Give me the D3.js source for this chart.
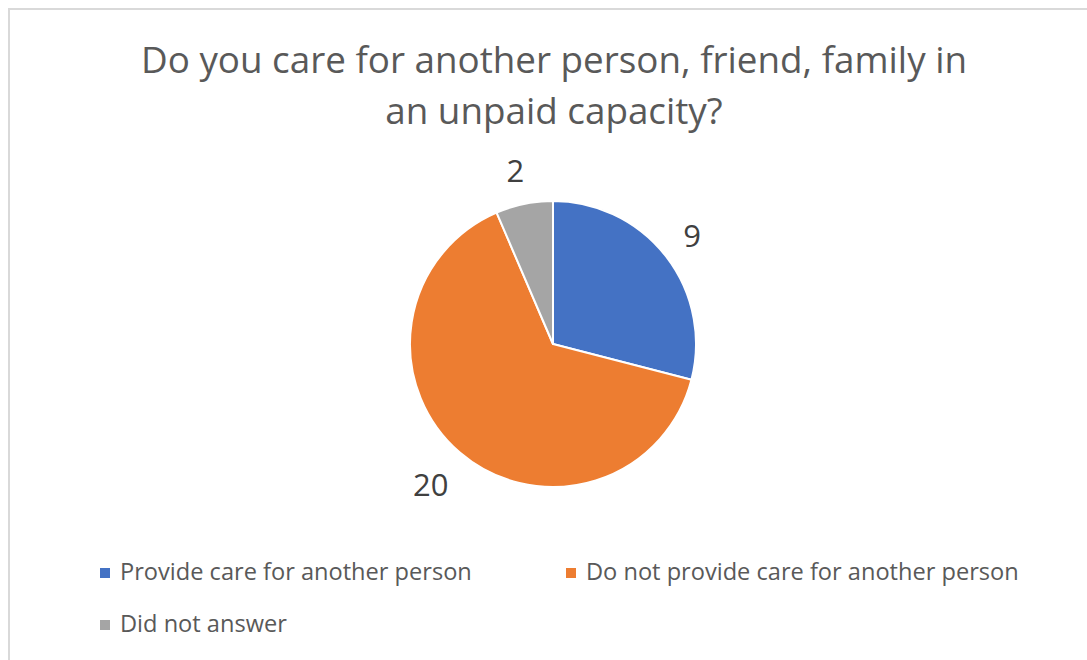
<!DOCTYPE html>
<html>
<head>
<meta charset="utf-8">
<script src="https://cdn.jsdelivr.net/npm/d3@7"></script>
<style>
  html, body { margin: 0; padding: 0; background: #fff; }
  svg { display: block; }
</style>
</head>
<body>
<div id="chart"></div>
<script>
// answers to the survey question
var categories = ["Provide care for another person", "Do not provide care for another person", "Did not answer"];
var counts = [9, 20, 2];
var colours = ["#4472c4", "#ed7d31", "#a5a5a5"];
var titleLines = ["Do you care for another person, friend, family in", "an unpaid capacity?"];

var width = 1087,
    height = 660,
    cx = 553,
    cy = 344,
    radius = 143,
    labelGap = 21;

var data = categories.map(function(c, i) {
    return {name: c, value: counts[i], colour: colours[i]};
});

var svg = d3.select("#chart").append("svg")
    .attr("width", width)
    .attr("height", height);

// chart frame
svg.append("rect")
    .attr("x", 9).attr("y", 9)
    .attr("width", width + 20).attr("height", height + 20)
    .attr("fill", "none")
    .attr("stroke", "#d9d9d9")
    .attr("stroke-width", 2);

// title
svg.append("g").selectAll("text")
    .data(titleLines)
    .enter().append("text")
    .attr("x", 554)
    .attr("y", function(d, i) { return 73 + i * 51; })
    .attr("text-anchor", "middle")
    .style("font-family", "'Open Sans', sans-serif")
    .style("font-size", "36.8px")
    .style("fill", "#595959")
    .text(function(d) { return d; });

var pie = d3.pie().sort(null).value(function(d) { return d.value; });
var arc = d3.arc().innerRadius(0).outerRadius(radius);
var arcs = pie(data);

var g = svg.append("g").attr("transform", "translate(" + cx + "," + cy + ")");

g.selectAll("path")
    .data(arcs)
    .enter().append("path")
    .attr("d", arc)
    .attr("fill", function(d) { return d.data.colour; })
    .attr("stroke", "#fff")
    .attr("stroke-width", 2)
    .attr("stroke-linejoin", "round");

// data labels, placed just outside the slice edge
var labels = g.selectAll("text.lbl")
    .data(arcs)
    .enter().append("text")
    .attr("class", "lbl")
    .attr("text-anchor", "middle")
    .attr("dominant-baseline", "central")
    .style("font-family", "'Open Sans', sans-serif")
    .style("font-size", "31px")
    .style("fill", "#404040")
    .text(function(d) { return d.data.value; });

labels.each(function(d) {
    var bb = this.getBBox();
    var a = (d.startAngle + d.endAngle) / 2;
    var ux = Math.sin(a), uy = -Math.cos(a);
    var hw = bb.width / 2, hh = 12;
    var dist = radius + labelGap + Math.abs(ux) * hw + Math.abs(uy) * hh;
    d3.select(this).attr("x", ux * dist - 2).attr("y", uy * dist);
});

// legend
var legendPos = [[100, 580], [566, 580], [100, 632]];
var legend = svg.append("g").selectAll("g")
    .data(data)
    .enter().append("g")
    .attr("transform", function(d, i) { return "translate(" + legendPos[i] + ")"; });

legend.append("rect")
    .attr("x", 0).attr("y", -12)
    .attr("width", 10).attr("height", 10)
    .attr("fill", function(d) { return d.colour; });

legend.append("text")
    .attr("x", 20)
    .attr("y", 0)
    .style("font-family", "'Open Sans', sans-serif")
    .style("font-size", "23.6px")
    .style("fill", "#595959")
    .text(function(d) { return d.name; });
</script>
</body>
</html>
